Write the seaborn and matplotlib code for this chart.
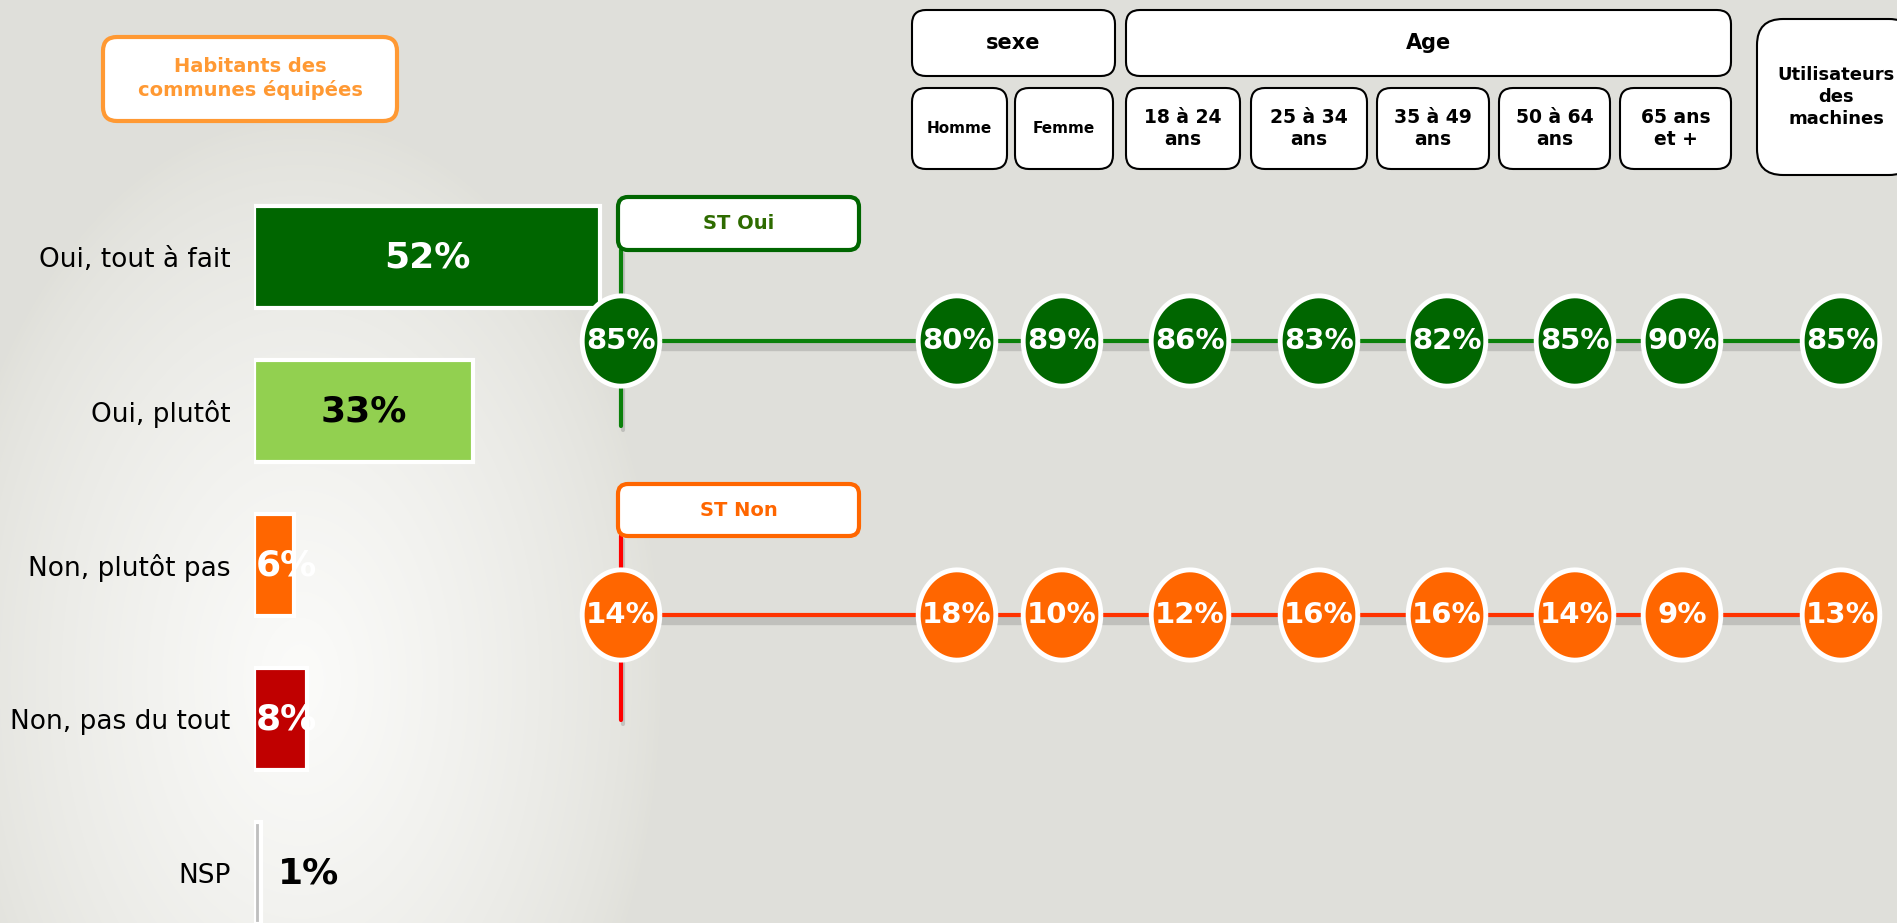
import numpy as np
import pandas as pd
import matplotlib
matplotlib.use('Agg')
import matplotlib.pyplot as plt
import matplotlib.patheffects as pe
from matplotlib.patches import FancyBboxPatch
from matplotlib.markers import MarkerStyle
from matplotlib.path import Path
import seaborn as sns

sns.set_theme(style='white')
plt.rcParams['font.family'] = ['DejaVu Sans']

# --- données ---
reponses = ['Oui, tout à fait', 'Oui, plutôt', 'Non, plutôt pas', 'Non, pas du tout', 'NSP']
reponses_pct = [52, 33, 6, 8, 1]
reponses_col = ['#006600', '#92D050', '#FF6600', '#C00000', '#BFBFBF']

groupes = ['Ensemble', 'Homme', 'Femme', '18 à 24 ans', '25 à 34 ans', '35 à 49 ans',
           '50 à 64 ans', '65 ans et +', 'Utilisateurs des machines']
st_oui = [85, 80, 89, 86, 83, 82, 85, 90, 85]
st_non = [14, 18, 10, 12, 16, 16, 14, 9, 13]

# --- mise en page (pixels) ---
W, H = 1897, 923
col_x = [621, 957, 1062, 1190, 1319, 1447, 1575, 1682, 1841]
row_y = {'ST Oui': 341, 'ST Non': 615}
fill_col = {'ST Oui': '#006600', 'ST Non': '#FF6600'}
line_col = {'ST Oui': '#0A800A', 'ST Non': '#FF3300'}

fig = plt.figure(figsize=(W / 100, H / 100), dpi=100)

# fond avec dégradé clair à gauche
ax_bg = fig.add_axes([0, 0, 1, 1], zorder=0)
yy, xx = np.mgrid[0:H, 0:W]
r = np.sqrt(((xx - 300) / 360.0) ** 2 + ((yy - 680) / 560.0) ** 2)
t = np.clip(1 - r, 0, 1) ** 0.75 * 0.92
base = np.array([0.878, 0.878, 0.855])
light = np.array([0.995, 0.995, 0.99])
img = base[None, None, :] * (1 - t[..., None]) + light[None, None, :] * t[..., None]
ax_bg.imshow(img, extent=(0, W, H, 0), aspect='auto')
ax_bg.set_xlim(0, W)
ax_bg.set_ylim(H, 0)
ax_bg.axis('off')

# --- barres de gauche ---
bar_top, bar_step = 180, 154
ax_b = fig.add_axes([254 / W, (H - (bar_top + 5 * bar_step)) / H, 665 / W, 5 * bar_step / H], zorder=1)
ax_b.patch.set_alpha(0)
sns.barplot(x=reponses_pct, y=reponses, hue=reponses, palette=reponses_col, orient='h',
            saturation=1, width=0.66, edgecolor='white', linewidth=3, legend=False, ax=ax_b)
ax_b.set_xlim(0, 100)
ax_b.set_ylim(4.5, -0.5)
ax_b.set_yticks(range(len(reponses)))
ax_b.set_yticklabels(reponses, fontsize=19, color='black')
ax_b.tick_params(axis='y', length=0, pad=17)
ax_b.set_xticks([])
ax_b.set_xlabel('')
ax_b.set_ylabel('')
for s in ax_b.spines.values():
    s.set_visible(False)

lab_pos = ['in', 'in', 'start', 'start', 'out']
lab_col = ['white', 'black', 'white', 'white', 'black']
for i, v in enumerate(reponses_pct):
    if lab_pos[i] == 'in':
        ax_b.text(v / 2, i, f'{v}%', ha='center', va='center', fontsize=26,
                  fontweight='bold', color=lab_col[i])
    elif lab_pos[i] == 'start':
        ax_b.text(0.3, i, f'{v}%', ha='left', va='center', fontsize=26,
                  fontweight='bold', color=lab_col[i], zorder=5)
    else:
        ax_b.text(v + 2.6, i, f'{v}%', ha='left', va='center', fontsize=26,
                  fontweight='bold', color=lab_col[i])

# --- couche du dessus : cartouches, lignes, pastilles ---
ax = fig.add_axes([0, 0, 1, 1], zorder=2)
ax.patch.set_alpha(0)
ax.set_xlim(0, W)
ax.set_ylim(H, 0)
ax.axis('off')


def boite(x0, y0, x1, y1, texte, edge='black', tcol='black', fs=13, lw=1.5, rnd=14):
    p = 4
    ax.add_patch(FancyBboxPatch((x0 + p, y0 + p), x1 - x0 - 2 * p, y1 - y0 - 2 * p,
                                boxstyle=f'round,pad={p},rounding_size={rnd}',
                                facecolor='white', edgecolor=edge, linewidth=lw, zorder=4))
    ax.text((x0 + x1) / 2, (y0 + y1) / 2, texte, ha='center', va='center', fontsize=fs,
            fontweight='bold', color=tcol, linespacing=1.25, zorder=5)


boite(103, 37, 397, 121, 'Habitants des\ncommunes équipées', edge='#FF9933', tcol='#FF9933',
      fs=14, lw=3)
boite(618, 197, 859, 250, 'ST Oui', edge='#006600', tcol='#2E6B00', fs=14, lw=3, rnd=10)
boite(618, 484, 859, 536, 'ST Non', edge='#FF6600', tcol='#FF6600', fs=14, lw=3, rnd=10)

boite(912, 10, 1115, 76, 'sexe', fs=15)
boite(1126, 10, 1731, 76, 'Age', fs=15)
entetes = ['Homme', 'Femme', '18 à 24\nans', '25 à 34\nans', '35 à 49\nans', '50 à 64\nans', '65 ans\net +']
entetes_x = [(912, 1007), (1015, 1113), (1126, 1240), (1251, 1367), (1377, 1489), (1499, 1610), (1620, 1731)]
for lab, (x0, x1) in zip(entetes, entetes_x):
    boite(x0, 88, x1, 169, lab, fs=11 if '\n' not in lab else 13.5)
boite(1757, 19, 1915, 175, 'Utilisateurs\ndes\nmachines', fs=13, rnd=26)

# connecteurs verticaux
shadow = [pe.SimpleLineShadow(offset=(1.5, -3), shadow_color='#777777', alpha=0.3), pe.Normal()]
ax.plot([col_x[0], col_x[0]], [250, 426], color='#0A800A', lw=3, zorder=2, path_effects=shadow)
ax.plot([col_x[0], col_x[0]], [536, 720], color='#FF0000', lw=3, zorder=2, path_effects=shadow)

df = pd.DataFrame({
    'groupe': groupes * 2,
    'serie': ['ST Oui'] * len(groupes) + ['ST Non'] * len(groupes),
    'valeur': st_oui + st_non,
})
df['xpos'] = col_x * 2
df['ypos'] = df['serie'].map(row_y)

n_before = len(ax.lines)
sns.lineplot(data=df, x='xpos', y='ypos', hue='serie', palette=line_col, estimator=None,
             linewidth=3, legend=False, ax=ax, zorder=2)
for ln in ax.lines[n_before:]:
    ln.set_path_effects([pe.SimpleLineShadow(offset=(0, -4), shadow_color='#666666', alpha=0.25,
                                             linewidth=6), pe.Normal()])

theta = np.linspace(0, 2 * np.pi, 80)
ellipse = MarkerStyle(Path(np.column_stack([0.86 * np.cos(theta), np.sin(theta)])))
sns.scatterplot(data=df, x='xpos', y='ypos', hue='serie', palette=fill_col, marker=ellipse,
                s=65 ** 2, edgecolor='white', linewidth=3.5, legend=False, ax=ax, zorder=5)
for _, row in df.iterrows():
    ax.text(row['xpos'], row['ypos'], f"{row['valeur']}%", ha='center', va='center',
            fontsize=21, fontweight='bold', color='white', zorder=6)

ax.set_xlim(0, W)
ax.set_ylim(H, 0)
ax.axis('off')

fig.savefig('out.png', dpi=100)
